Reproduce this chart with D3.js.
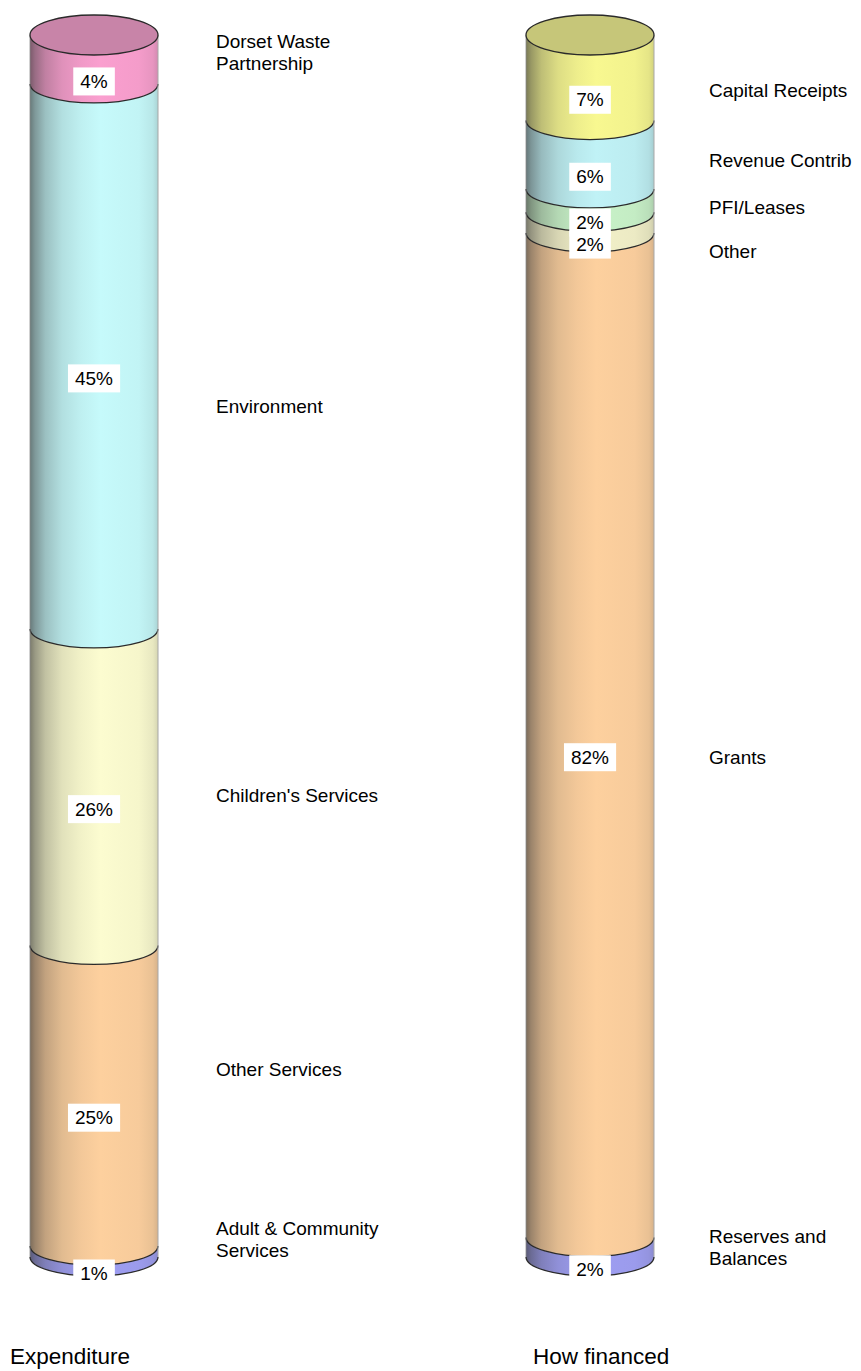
<!DOCTYPE html>
<html><head><meta charset="utf-8">
<script src="https://cdn.jsdelivr.net/npm/d3@7"></script>
<style>body{margin:0;background:#fff}svg{display:block}text{font-family:"Liberation Sans",Arial,sans-serif}</style>
</head><body>
<svg id="c" width="861" height="1371"></svg>
<script>
// ---- data ----
const charts = ["Expenditure", "How financed"];
const expCategories = ["Dorset Waste Partnership", "Environment", "Children's Services", "Other Services", "Adult & Community Services"];
const expValues = [4.0, 44.6, 25.9, 24.6, 0.9];
const expLabels = ["4%", "45%", "26%", "25%", "1%"];
const finCategories = ["Capital Receipts", "Revenue Contrib", "PFI/Leases", "Other", "Grants", "Reserves and Balances"];
const finValues = [7.0, 5.6, 1.9, 1.7, 82.2, 1.6];
const finLabels = ["7%", "6%", "2%", "2%", "82%", "2%"];
const expColors = ["#fa9fcf", "#c6fafb", "#fcfcd0", "#fdd09e", "#9e9ef2"];
const finColors = ["#f8f890", "#c0f2f6", "#c8f2c8", "#f2f0c8", "#fdd09e", "#9e9ef2"];

// ---- layout ----
const svg = d3.select("#c");
const xC = d3.scalePoint().domain(charts).range([94, 590]);
const y = d3.scaleLinear().domain([0, 100]).range([35, 1257]);
const rx = 64, ry = 19;
const catX = {"Expenditure": 216, "How financed": 709};
const titleX = {"Expenditure": 10, "How financed": 533};
const nudges = {
  "Expenditure": [-26, 31, -11, -45, -31],
  "How financed": [-6, -13, -12, 10, 3, -19]
};
const lineBreaks = {"Dorset Waste Partnership": ["Dorset Waste", "Partnership"],
  "Adult & Community Services": ["Adult & Community", "Services"],
  "Reserves and Balances": ["Reserves and", "Balances"]};

const defs = svg.append("defs");
function shade(c, k) { return d3.interpolateRgb(c, "#383838")(k); }

function drawCylinder(name, cats, vals, labels, colors) {
  const cx = xC(name), L = cx - rx, R = cx + rx;
  let cum = 0;
  const segs = vals.map((v, i) => { const s = {i, cat: cats[i], v, lab: labels[i], c: colors[i], y0: y(cum), y1: y(cum + v)}; cum += v; return s; });
  const g = svg.append("g");
  segs.forEach(s => {
    const id = `g_${name.replace(/\W/g,'')}_${s.i}`;
    const gr = defs.append("linearGradient").attr("id", id).attr("gradientUnits", "userSpaceOnUse")
      .attr("x1", L).attr("x2", R).attr("y1", 0).attr("y2", 0);
    [[0, .66], [0.04, .5], [0.12, .3], [0.25, .14], [0.4, .05], [0.55, 0], [0.85, .03], [0.96, .1], [1, .2]].forEach(([o, k]) =>
      gr.append("stop").attr("offset", o).attr("stop-color", shade(s.c, k)));
    s.grad = id;
  });
  segs.slice().reverse().forEach(s => {
    g.append("path")
      .attr("d", `M${L},${s.y0} A${rx},${ry} 0 0 0 ${R},${s.y0} L${R},${s.y1} A${rx},${ry} 0 0 1 ${L},${s.y1} Z`)
      .attr("fill", `url(#${s.grad})`);
  });
  segs.forEach(s => {
    g.append("path").attr("d", `M${L},${s.y1} A${rx},${ry} 0 0 0 ${R},${s.y1}`)
      .attr("fill", "none").attr("stroke", "#2a2a2a").attr("stroke-width", 1.3);
  });
  g.append("line").attr("x1", L).attr("x2", L).attr("y1", y(0)).attr("y2", y(100)).attr("stroke", "#8a8a8a").attr("stroke-width", 0.8);
  g.append("line").attr("x1", R).attr("x2", R).attr("y1", y(0)).attr("y2", y(100)).attr("stroke", "#a8a8a8").attr("stroke-width", 1);
  g.append("ellipse").attr("cx", cx).attr("cy", y(0)).attr("rx", rx).attr("ry", ry + 1)
    .attr("fill", shade(colors[0], 0.26)).attr("stroke", "#2a2a2a").attr("stroke-width", 1.3);
  segs.forEach(s => {
    const ly = (s.y0 + s.y1) / 2 + ry + 3;
    const lg = g.append("g");
    const t = lg.append("text").attr("x", cx).attr("y", ly).attr("text-anchor", "middle")
      .attr("dominant-baseline", "central").attr("font-size", 19).attr("fill", "#000").text(s.lab);
    const bb = t.node().getBBox();
    lg.insert("rect", "text").attr("x", bb.x - 7).attr("y", ly - 14).attr("width", bb.width + 14).attr("height", 28).attr("fill", "#fff");
  });
  segs.forEach(s => {
    const ly = (s.y0 + s.y1) / 2 + ry + nudges[name][s.i];
    const lines = lineBreaks[s.cat] || [s.cat];
    const t = svg.append("text").attr("x", catX[name]).attr("font-size", 19).attr("fill", "#000");
    lines.forEach((ln, j) => t.append("tspan").attr("x", catX[name])
      .attr("y", ly + (j - (lines.length - 1) / 2) * 22).attr("dominant-baseline", "central").text(ln));
  });
  svg.append("text").attr("x", titleX[name]).attr("y", 1364).attr("font-size", 22.5).attr("fill", "#000").text(name);
}
drawCylinder("Expenditure", expCategories, expValues, expLabels, expColors);
drawCylinder("How financed", finCategories, finValues, finLabels, finColors);
</script>
</body></html>
